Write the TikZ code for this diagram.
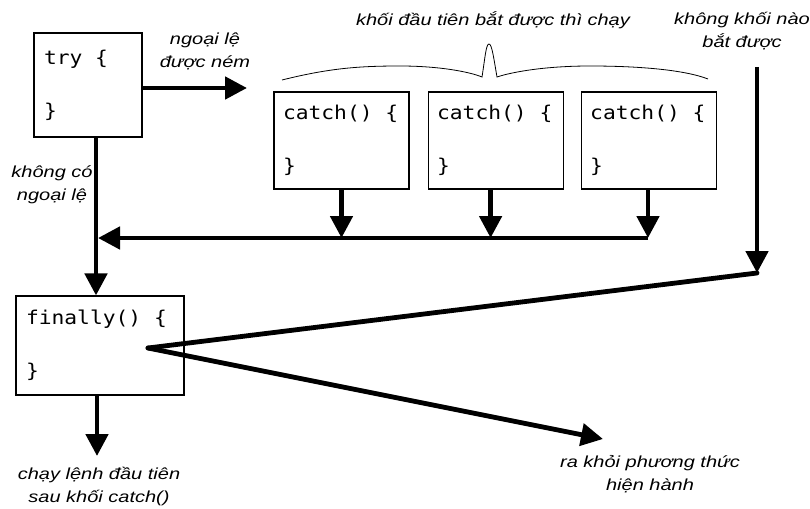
\documentclass[tikz,border=0pt]{standalone}
\usepackage{fontspec}
\setmainfont{Liberation Sans}[FakeStretch=1.25]
\newfontfamily\codefont{DejaVu Sans Mono}[FakeStretch=1.12]
\usepackage{tikz}
\usetikzlibrary{arrows.meta,positioning}
\newcommand{\codesp}{\nobreak\hspace{0.674em}\nobreak}

\begin{document}
\begin{tikzpicture}[
  x=1pt, y=-1pt,
  box/.style={draw, line width=1.1pt, align=left, inner xsep=10pt,
              font=\codefont\fontsize{19}{23}\selectfont},
  lbl/.style={align=center, inner sep=0pt, font=\itshape\fontsize{16}{23}\selectfont},
  bar/.style={line width=4.8pt, line cap=round, line join=round},
  arr/.style={line width=4.8pt, -{Triangle[length=22pt,width=22pt]}}
]
\useasboundingbox (0,0) rectangle (810,508);

\node[box, text width=88pt, minimum height=104pt] (try) at (88,85) {try\codesp\{\\[30pt]\}};
\node[box, text width=117pt, minimum height=97pt, inner xsep=9pt] (c1) at (341.5,140.5) {catch()\codesp\{\\[30pt]\}};
\node[box, text width=117pt, minimum height=97pt, inner xsep=9pt, right=18pt of c1] (c2) {catch()\codesp\{\\[30pt]\}};
\node[box, text width=117pt, minimum height=97pt, inner xsep=9pt, right=17pt of c2] (c3) {catch()\codesp\{\\[30pt]\}};
\node[box, text width=148pt, minimum height=99pt] (fin) at (100,345.5) {finally()\codesp\{\\[30pt]\}};

\node[lbl] (thrownlbl) at (205,51) {ngoại lệ\\được ném};
\node[lbl] (nonelbl) at (52,185) {không có\\ngoại lệ};
\node[lbl] (firstlbl) at (493,20) {khối đầu tiên bắt được thì chạy};
\node[lbl] (nocatchlbl) at (742,31) {không khối nào\\bắt được};
\node[lbl] (nextlbl) at (99,487) {chạy lệnh đầu tiên\\sau khối catch()};
\node[lbl] (exitlbl) at (650,474) {ra khỏi phương thức\\hiện hành};

\coordinate (thrown) at (247,88);
\coordinate (mergeR) at (648,238);
\coordinate (merge) at (98,238);
\coordinate (nctop) at (757,67);
\coordinate (ncbend) at (757,273);
\coordinate (fpt) at (148,348);
\coordinate (exittip) at (603,439);
\coordinate (nexttip) at (97,456);

% brace over the catch blocks
\draw[line width=0.8pt] (282,80) .. controls (330,68) and (360,66) .. (400,66)
  .. controls (440,66) and (470,72) .. (482,77)
  .. controls (485,58) and (486,44) .. (489,44)
  .. controls (492,44) and (494,60) .. (497,77)
  .. controls (512,72) and (545,66) .. (590,66)
  .. controls (640,66) and (685,70) .. (708,79);

\draw[arr] (try.east |- thrown) -- (thrown);
\draw[arr] ([xshift=8pt]try.south) -- ([xshift=-4pt]fin.north);
\draw[arr] (c1.south) -- (c1.south |- mergeR);
\draw[arr] ([xshift=-5pt]c2.south) -- ([xshift=-5pt]c2.south |- mergeR);
\draw[arr] (c3.south -| mergeR) -- (mergeR);
\draw[arr] (mergeR) -- (merge);
\draw[arr] (nctop) -- (ncbend);
\draw[bar] (ncbend) -- (fpt);
\draw[arr, line cap=round] (fpt) -- (exittip);
\draw[arr] ([xshift=-3pt]fin.south) -- (nexttip);
\end{tikzpicture}
\end{document}
